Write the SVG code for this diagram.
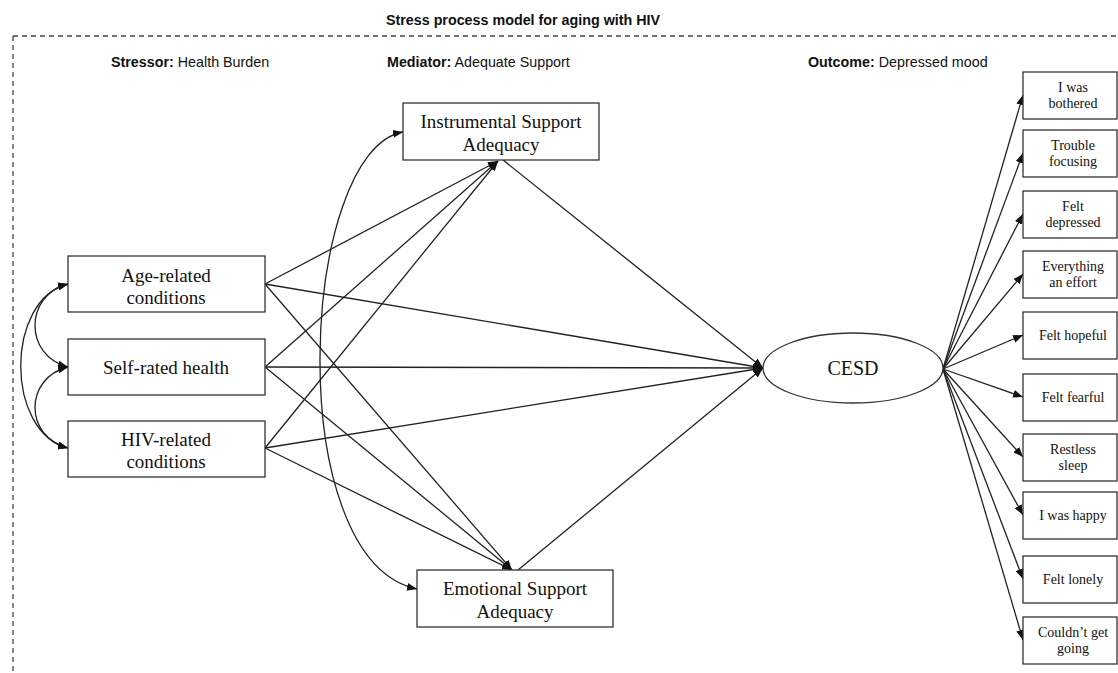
<svg xmlns="http://www.w3.org/2000/svg" width="1118" height="673" viewBox="0 0 1118 673">
<defs>
<marker id="arr" viewBox="0 0 10 8" refX="10" refY="4" markerWidth="10" markerHeight="8" markerUnits="userSpaceOnUse" orient="auto-start-reverse">
<path d="M0,0 L10,4 L0,8 Z" fill="#111"/>
</marker>
<style>
.hdr{font-family:"Liberation Sans",Arial,sans-serif;font-size:14.3px;fill:#111}
.b{font-weight:bold}
.box{fill:#fff;stroke:#333;stroke-width:1.3}
.t{font-family:"Liberation Serif","Times New Roman",serif;font-size:19px;fill:#111;text-anchor:middle}
.s{font-family:"Liberation Serif","Times New Roman",serif;font-size:14px;fill:#111;text-anchor:middle}
.c{fill:none;stroke:#222;stroke-width:1.3;marker-end:url(#arr)}
.cc{fill:none;stroke:#222;stroke-width:1.3;marker-end:url(#arr);marker-start:url(#arr)}
.dash{fill:none;stroke:#444;stroke-width:1.3;stroke-dasharray:5 4}
</style>
</defs>
<g id="frame">
<path class="dash" d="M13 36 H1118 M13 36 V673"/>
<text class="hdr b" x="523" y="25" text-anchor="middle">Stress process model for aging with HIV</text>
<text class="hdr" x="111" y="67"><tspan class="b">Stressor:</tspan> Health Burden</text>
<text class="hdr" x="387" y="67"><tspan class="b">Mediator:</tspan> Adequate Support</text>
<text class="hdr" x="808" y="67"><tspan class="b">Outcome:</tspan> Depressed mood</text>
</g>
<g id="connectors">
<path class="cc" d="M68 284 C24 295, 24 356, 68 367"/>
<path class="cc" d="M68 367 C24 378, 24 437, 68 448"/>
<path class="cc" d="M68 284 C5 300, 5 432, 68 448"/>
<path class="cc" d="M403 132 C300 150, 280 560, 417 589"/>
<path class="c" d="M265 284 L498 161"/>
<path class="c" d="M265 284 L763 368"/>
<path class="c" d="M265 284 L512 570"/>
<path class="c" d="M265 367 L498 161"/>
<path class="c" d="M265 367 L763 368"/>
<path class="c" d="M265 367 L512 570"/>
<path class="c" d="M265 448 L498 161"/>
<path class="c" d="M265 448 L763 368"/>
<path class="c" d="M265 448 L512 570"/>
<path class="c" d="M503 160 L763 368"/>
<path class="c" d="M518 570 L763 368"/>
<path class="c" d="M943 369 L1023 95"/>
<path class="c" d="M943 369 L1023 153"/>
<path class="c" d="M943 369 L1023 214"/>
<path class="c" d="M943 369 L1023 274"/>
<path class="c" d="M943 369 L1023 335"/>
<path class="c" d="M943 369 L1023 397"/>
<path class="c" d="M943 369 L1023 457"/>
<path class="c" d="M943 369 L1023 515"/>
<path class="c" d="M943 369 L1023 579"/>
<path class="c" d="M943 369 L1023 640"/>
</g>
<g id="age"><rect class="box" x="68" y="256" width="197" height="56"/><text class="t" x="166" y="282">Age-related</text><text class="t" x="166" y="304">conditions</text></g>
<g id="self"><rect class="box" x="68" y="339" width="197" height="56"/><text class="t" x="166" y="374">Self-rated health</text></g>
<g id="hiv"><rect class="box" x="68" y="421" width="197" height="56"/><text class="t" x="166" y="446">HIV-related</text><text class="t" x="166" y="468">conditions</text></g>
<g id="instrumental"><rect class="box" x="403" y="103" width="196" height="57"/><text class="t" x="501" y="128">Instrumental Support</text><text class="t" x="501" y="151">Adequacy</text></g>
<g id="emotional"><rect class="box" x="417" y="570" width="196" height="57"/><text class="t" x="515" y="595">Emotional Support</text><text class="t" x="515" y="618">Adequacy</text></g>
<g id="cesd"><ellipse cx="853" cy="368" rx="90" ry="35" fill="#fff" stroke="#333" stroke-width="1.3"/><text class="t" x="853" y="375" style="font-size:20px">CESD</text></g>
<g id="i1"><rect class="box" x="1023" y="72" width="94" height="47"/><text class="s" x="1073" y="92">I was</text><text class="s" x="1073" y="108">bothered</text></g>
<g id="i2"><rect class="box" x="1023" y="130" width="94" height="47"/><text class="s" x="1073" y="150">Trouble</text><text class="s" x="1073" y="166">focusing</text></g>
<g id="i3"><rect class="box" x="1023" y="191" width="94" height="47"/><text class="s" x="1073" y="211">Felt</text><text class="s" x="1073" y="227">depressed</text></g>
<g id="i4"><rect class="box" x="1023" y="251" width="94" height="47"/><text class="s" x="1073" y="271">Everything</text><text class="s" x="1073" y="287">an effort</text></g>
<g id="i5"><rect class="box" x="1023" y="312" width="94" height="47"/><text class="s" x="1073" y="340">Felt hopeful</text></g>
<g id="i6"><rect class="box" x="1023" y="374" width="94" height="47"/><text class="s" x="1073" y="402">Felt fearful</text></g>
<g id="i7"><rect class="box" x="1023" y="434" width="94" height="47"/><text class="s" x="1073" y="454">Restless</text><text class="s" x="1073" y="470">sleep</text></g>
<g id="i8"><rect class="box" x="1023" y="492" width="94" height="47"/><text class="s" x="1073" y="520">I was happy</text></g>
<g id="i9"><rect class="box" x="1023" y="556" width="94" height="47"/><text class="s" x="1073" y="584">Felt lonely</text></g>
<g id="i10"><rect class="box" x="1023" y="617" width="94" height="47"/><text class="s" x="1073" y="637">Couldn’t get</text><text class="s" x="1073" y="653">going</text></g>
</svg>
